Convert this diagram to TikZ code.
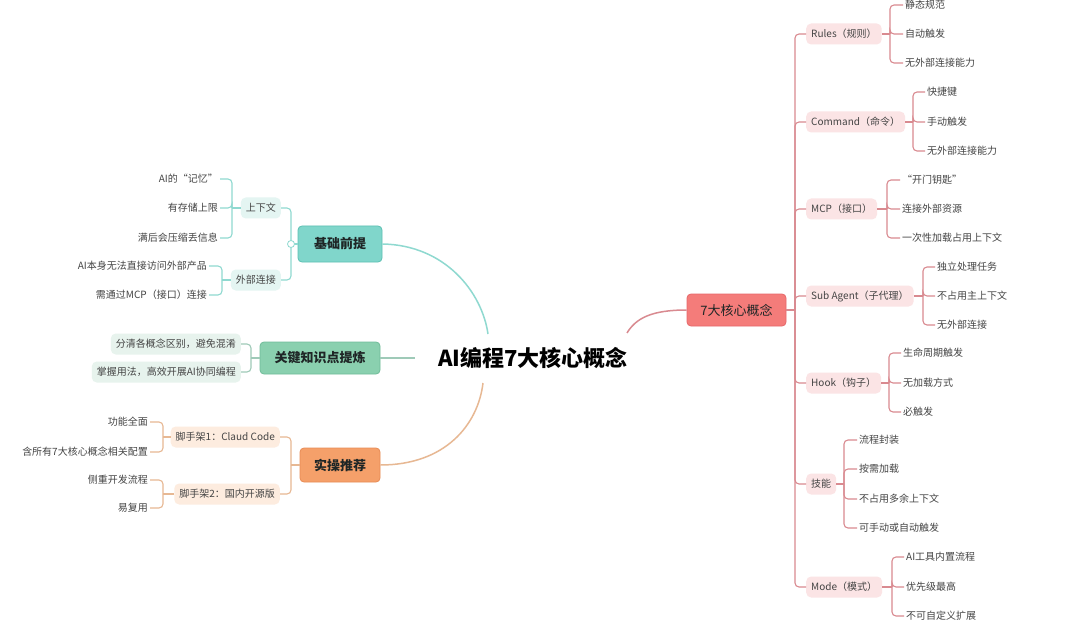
\documentclass[tikz,border=0pt]{standalone}
\usepackage{fontspec}
\setmainfont{Noto Sans CJK SC}
\definecolor{txt}{HTML}{444444}
\definecolor{dark}{HTML}{1F2626}
\definecolor{tealfill}{HTML}{80D6CB}
\definecolor{tealbord}{HTML}{5CC0B3}
\definecolor{tealline}{HTML}{8FD9D0}
\definecolor{tealbg}{HTML}{E4F5F2}
\definecolor{greenfill}{HTML}{8AD0AF}
\definecolor{greenbord}{HTML}{70BC99}
\definecolor{greenline}{HTML}{9FCAB8}
\definecolor{greenbg}{HTML}{E7F3ED}
\definecolor{orfill}{HTML}{F5A06A}
\definecolor{orbord}{HTML}{E88B55}
\definecolor{orline}{HTML}{E7B893}
\definecolor{orbg}{HTML}{FDECDF}
\definecolor{redfill}{HTML}{F47C7A}
\definecolor{redbord}{HTML}{E6686A}
\definecolor{redline}{HTML}{D98A90}
\definecolor{pinkbg}{HTML}{FBE4E5}
\begin{document}
\begin{tikzpicture}[x=1pt,y=-1pt,
  leaf/.style={font=\fontsize{10}{12}\selectfont, text=txt, inner sep=2pt},
  pill/.style={font=\fontsize{10}{12}\selectfont, text=txt, rounded corners=5pt, minimum height=21pt, inner xsep=5pt, inner ysep=2pt},
  mainbox/.style={rounded corners=4pt, font=\bfseries\fontsize{13}{15}\selectfont, text=dark, minimum height=34pt, inner sep=0pt, line width=0.8pt},
  curve/.style={line width=1.5pt},
  br/.style={line width=1.1pt, rounded corners=4pt}
]
\useasboundingbox[fill=white] (0,0) rectangle (1080,623);

% root
\node[font=\bfseries\fontsize{22}{25}\selectfont, text=black] (root) at (533,358) {AI编程7大核心概念};

% main boxes
\node[mainbox, fill=tealfill, draw=tealbord, minimum width=84pt, minimum height=36pt] (jc) at (340,244) {基础前提};
\node[mainbox, fill=greenfill, draw=greenbord, minimum width=120pt, minimum height=32pt] (gj) at (320,358) {关键知识点提炼};
\node[mainbox, fill=orfill, draw=orbord, minimum width=80pt] (sc) at (340,465) {实操推荐};
\node[mainbox, fill=redfill, draw=redbord, minimum width=99pt, minimum height=32pt, font=\fontsize{13}{15}\selectfont] (hx) at (736.5,310) {7大核心概念};

% root connectors
\coordinate (rA) at (488,334);
\coordinate (rB) at (415,358);
\coordinate (rC) at (483,383);
\coordinate (rD) at (627,333);
\draw[curve, tealline] (jc.east) .. controls (445,245) and (482,292) .. (rA);
\draw[curve, greenline] (gj.east) -- (rB);
\draw[curve, orline] (sc.east) .. controls (445,465) and (478,425) .. (rC);
\draw[curve, redline] (hx.west) .. controls (652,310) and (636,318) .. (rD);

% ---------- 基础前提 ----------
\node[pill, fill=tealbg, anchor=east] (ctx) at (281,208) {上下文};
\node[pill, fill=tealbg, anchor=east] (ext) at (281,280) {外部连接};
\coordinate (bjc) at (291,244);
\draw[br, tealline] (jc.west) -- (bjc);
\draw[br, tealline] (bjc) |- (ctx.east);
\draw[br, tealline] (bjc) |- (ext.east);
\node[circle, draw=tealline, fill=white, line width=0.8pt, minimum size=7pt, inner sep=0pt] (cm) at (bjc) {};

\node[leaf, anchor=east] (c1) at (220,179) {AI的“记忆”};
\node[leaf, anchor=east] (c2) at (220,208) {有存储上限};
\node[leaf, anchor=east] (c3) at (220,238) {满后会压缩丢信息};
\coordinate (bctx) at (232,208);
\draw[br, tealline] (ctx.west) -- (bctx);
\foreach \n in {c1,c2,c3} \draw[br, tealline] (bctx) |- (\n.east);

\node[leaf, anchor=east] (e1) at (209,266) {AI本身无法直接访问外部产品};
\node[leaf, anchor=east] (e2) at (209,295) {需通过MCP（接口）连接};
\coordinate (bext) at (222,280);
\draw[br, tealline] (ext.west) -- (bext);
\foreach \n in {e1,e2} \draw[br, tealline] (bext) |- (\n.east);

% ---------- 关键知识点提炼 ----------
\node[pill, fill=greenbg, anchor=east] (k1) at (241,344) {分清各概念区别，避免混淆};
\node[pill, fill=greenbg, anchor=east] (k2) at (241,372) {掌握用法，高效开展AI协同编程};
\coordinate (bgj) at (251,358);
\draw[br, greenline] (gj.west) -- (bgj);
\foreach \n in {k1,k2} \draw[br, greenline] (bgj) |- (\n.east);

% ---------- 实操推荐 ----------
\node[pill, fill=orbg, anchor=east] (s1) at (280,437) {脚手架1：Claud Code};
\node[pill, fill=orbg, anchor=east] (s2) at (280,494) {脚手架2：国内开源版};
\coordinate (bsc) at (291,465);
\draw[br, orline] (sc.west) -- (bsc);
\foreach \n in {s1,s2} \draw[br, orline] (bsc) |- (\n.east);

\node[leaf, anchor=east] (s11) at (150,422) {功能全面};
\node[leaf, anchor=east] (s12) at (150,452) {含所有7大核心概念相关配置};
\coordinate (bs1) at (163,437);
\draw[br, orline] (s1.west) -- (bs1);
\foreach \n in {s11,s12} \draw[br, orline] (bs1) |- (\n.east);

\node[leaf, anchor=east] (s21) at (150,480) {侧重开发流程};
\node[leaf, anchor=east] (s22) at (150,508) {易复用};
\coordinate (bs2) at (163,494);
\draw[br, orline] (s2.west) -- (bs2);
\foreach \n in {s21,s22} \draw[br, orline] (bs2) |- (\n.east);

% ---------- 7大核心概念 ----------
\node[pill, fill=pinkbg, anchor=west] (p1) at (806,34) {Rules（规则）};
\node[pill, fill=pinkbg, anchor=west] (p2) at (806,122) {Command（命令）};
\node[pill, fill=pinkbg, anchor=west] (p3) at (806,209) {MCP（接口）};
\node[pill, fill=pinkbg, anchor=west] (p4) at (806,296) {Sub Agent（子代理）};
\node[pill, fill=pinkbg, anchor=west] (p5) at (806,383) {Hook（钩子）};
\node[pill, fill=pinkbg, anchor=west] (p6) at (806,484) {技能};
\node[pill, fill=pinkbg, anchor=west] (p7) at (806,587) {Mode（模式）};
\coordinate (bhx) at (795,310);
\draw[br, redline] (hx.east) -- (bhx);
\foreach \n in {p1,p2,p3,p4,p5,p6,p7} \draw[br, redline] (bhx) |- (\n.west);

% Rules
\node[leaf, anchor=west] (r1) at (903,5) {静态规范};
\node[leaf, anchor=west] (r2) at (903,34) {自动触发};
\node[leaf, anchor=west] (r3) at (903,63) {无外部连接能力};
\coordinate (b1) at (890,34);
\draw[br, redline] (p1.east) -- (b1);
\foreach \n in {r1,r2,r3} \draw[br, redline] (b1) |- (\n.west);

% Command
\node[leaf, anchor=west] (c21) at (925,92) {快捷键};
\node[leaf, anchor=west] (c22) at (925,122) {手动触发};
\node[leaf, anchor=west] (c23) at (925,151) {无外部连接能力};
\coordinate (b2) at (913,122);
\draw[br, redline] (p2.east) -- (b2);
\foreach \n in {c21,c22,c23} \draw[br, redline] (b2) |- (\n.west);

% MCP
\node[leaf, anchor=west] (m1) at (900,180) {“开门钥匙”};
\node[leaf, anchor=west] (m2) at (900,209) {连接外部资源};
\node[leaf, anchor=west] (m3) at (900,238) {一次性加载占用上下文};
\coordinate (b3) at (887,209);
\draw[br, redline] (p3.east) -- (b3);
\foreach \n in {m1,m2,m3} \draw[br, redline] (b3) |- (\n.west);

% Sub Agent
\node[leaf, anchor=west] (a1) at (935,267) {独立处理任务};
\node[leaf, anchor=west] (a2) at (935,296) {不占用主上下文};
\node[leaf, anchor=west] (a3) at (935,325) {无外部连接};
\coordinate (b4) at (923,296);
\draw[br, redline] (p4.east) -- (b4);
\foreach \n in {a1,a2,a3} \draw[br, redline] (b4) |- (\n.west);

% Hook
\node[leaf, anchor=west] (h1) at (901,353) {生命周期触发};
\node[leaf, anchor=west] (h2) at (901,383) {无加载方式};
\node[leaf, anchor=west] (h3) at (901,412) {必触发};
\coordinate (b5) at (889,383);
\draw[br, redline] (p5.east) -- (b5);
\foreach \n in {h1,h2,h3} \draw[br, redline] (b5) |- (\n.west);

% 技能
\node[leaf, anchor=west] (j1) at (857,440) {流程封装};
\node[leaf, anchor=west] (j2) at (857,469) {按需加载};
\node[leaf, anchor=west] (j3) at (857,499) {不占用多余上下文};
\node[leaf, anchor=west] (j4) at (857,528) {可手动或自动触发};
\coordinate (b6) at (844,484);
\draw[br, redline] (p6.east) -- (b6);
\foreach \n in {j1,j2,j3,j4} \draw[br, redline] (b6) |- (\n.west);

% Mode
\node[leaf, anchor=west] (o1) at (904,557) {AI工具内置流程};
\node[leaf, anchor=west] (o2) at (904,587) {优先级最高};
\node[leaf, anchor=west] (o3) at (904,616) {不可自定义扩展};
\coordinate (b7) at (892,587);
\draw[br, redline] (p7.east) -- (b7);
\foreach \n in {o1,o2,o3} \draw[br, redline] (b7) |- (\n.west);
\end{tikzpicture}
\end{document}
